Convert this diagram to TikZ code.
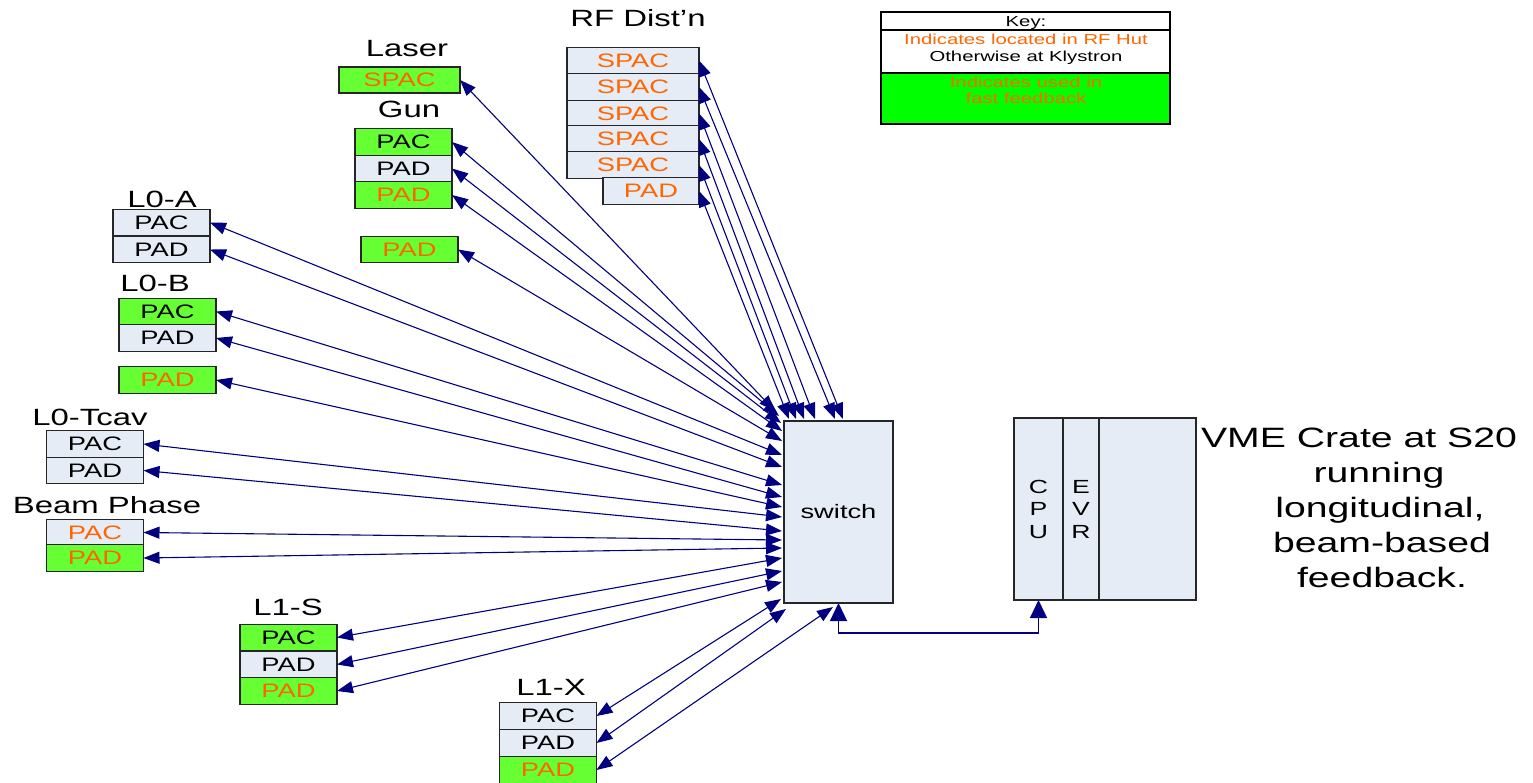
\documentclass[tikz,border=0pt]{standalone}
\usepackage{fontspec}
\setmainfont[FakeStretch=1.4]{Liberation Sans}
\usetikzlibrary{arrows.meta}
\definecolor{boxfill}{HTML}{E6ECF6}
\definecolor{fbgreen}{HTML}{66FF33}
\definecolor{keygreen}{HTML}{00FF00}
\definecolor{huttext}{HTML}{FF6600}
\definecolor{wire}{HTML}{000080}
\newcommand\fsCell{\fontsize{19.5}{19.5}\selectfont}
\newcommand\fsTitle{\fontsize{23.5}{23.5}\selectfont}
\newcommand\fsKey{\fontsize{14.5}{14.5}\selectfont}
\newcommand\fsBig{\fontsize{28}{28}\selectfont}
\begin{document}
\begin{tikzpicture}[x=1pt,y=-1pt,
  cell/.style={draw=black!85, line width=1.1pt, fill=boxfill, minimum width=97pt,
    minimum height=26.5pt, inner sep=0pt, outer sep=0pt, font=\fsCell},
  fast/.style={fill=fbgreen},
  hut/.style={text=huttext},
  title/.style={anchor=base, font=\fsTitle, inner sep=0pt},
  bigtext/.style={anchor=base, font=\fsBig, inner sep=0pt},
  keytext/.style={anchor=base, font=\fsKey, inner sep=0pt},
  link/.style={draw=wire, line width=1.1pt,
    {Triangle[length=16pt,width=12pt]}-{Triangle[length=16pt,width=12pt]}},
  bus/.style={draw=wire, line width=1.3pt,
    {Triangle[length=18pt,width=17pt]}-{Triangle[length=18pt,width=17pt]}},
  unit/.style={draw=black!85, line width=1.1pt, fill=boxfill, inner sep=0pt,
    outer sep=0pt, minimum height=182pt}
]
\path[fill=white, use as bounding box] (0,0) rectangle (1533,783);

% ---- key ----
\draw[line width=2.2pt, fill=white] (881,12) rectangle (1170,124);
\draw[line width=2.2pt, fill=keygreen] (881,73) rectangle (1170,124);
\draw[line width=2.2pt] (881,30) -- (1170,30);
\node[keytext] (keyhead) at (1026,27) {Key:};
\node[keytext, text=huttext] (keyhut) at (1026,45) {Indicates located in RF Hut};
\node[keytext] (keykly) at (1026,62) {Otherwise at Klystron};
\node[keytext, text=huttext] (keyfb1) at (1026,88) {Indicates used in};
\node[keytext, text=huttext] (keyfb2) at (1026,104) {fast feedback};

% ---- laser and gun ----
\node[title] (tlaser) at (407,57) {Laser};
\node[cell, fast, hut, minimum width=121pt, minimum height=26pt] (laser) at (399.5,80) {SPAC};
\node[title] (tgun) at (409,118) {Gun};
\node[cell, fast] (gun1) at (403.5,142) {PAC};
\node[cell] (gun2) at (403.5,168.5) {PAD};
\node[cell, fast, hut] (gun3) at (403.5,195) {PAD};
\node[cell, fast, hut] (gunpad) at (409.5,249.5) {PAD};

% ---- RF distribution ----
\node[title] (trf) at (638,27) {RF Dist'n};
\node[cell, hut, minimum width=132pt] (rf1) at (633,60.5) {SPAC};
\node[cell, hut, minimum width=132pt] (rf2) at (633,87) {SPAC};
\node[cell, hut, minimum width=132pt] (rf3) at (633,113.5) {SPAC};
\node[cell, hut, minimum width=132pt] (rf4) at (633,139) {SPAC};
\node[cell, hut, minimum width=132pt] (rf5) at (633,165) {SPAC};
\node[cell, hut, minimum width=96pt] (rf6) at (651,191) {PAD};

% ---- L0-A / L0-B ----
\node[title] (tl0a) at (162,208) {L0-A};
\node[cell] (l0a1) at (161.5,222.5) {PAC};
\node[cell] (l0a2) at (161.5,249.5) {PAD};
\node[title] (tl0b) at (155,292) {L0-B};
\node[cell, fast] (l0b1) at (167.5,311.5) {PAC};
\node[cell] (l0b2) at (167.5,338) {PAD};
\node[cell, fast, hut] (l0b3) at (167.5,380) {PAD};

% ---- L0-Tcav / Beam Phase ----
\node[title] (ttcav) at (90,425) {L0-Tcav};
\node[cell] (tcav1) at (95,444) {PAC};
\node[cell] (tcav2) at (95,470.5) {PAD};
\node[title] (tbeam) at (107,513) {Beam Phase};
\node[cell, hut] (beam1) at (95,532.5) {PAC};
\node[cell, fast, hut] (beam2) at (95,558) {PAD};

% ---- L1-S / L1-X ----
\node[title] (tl1s) at (288,615) {L1-S};
\node[cell, fast] (l1s1) at (288.5,637.5) {PAC};
\node[cell] (l1s2) at (288.5,664.5) {PAD};
\node[cell, fast, hut] (l1s3) at (288.5,691) {PAD};
\node[title] (tl1x) at (551,695) {L1-X};
\node[cell] (l1x1) at (548,716) {PAC};
\node[cell] (l1x2) at (548,743) {PAD};
\node[cell, fast, hut] (l1x3) at (548,770) {PAD};

% ---- switch and VME crate ----
\node[unit, minimum width=109pt, font=\fontsize{19.5}{19.5}\selectfont] (sw) at (838.5,512) {switch};
\node[unit, minimum width=182pt] (crate) at (1105,509) {};
\node[unit, minimum width=49pt, align=center, font=\fontsize{19}{22.5}\selectfont] (cpu) at (1038.5,509) {C\\P\\U};
\node[unit, minimum width=36pt, align=center, font=\fontsize{19}{22.5}\selectfont] (evr) at (1081,509) {E\\V\\R};
\node[bigtext] (vme1) at (1359,447) {VME Crate at S20};
\node[bigtext] (vme2) at (1379,482) {running};
\node[bigtext] (vme3) at (1380,517) {longitudinal,};
\node[bigtext] (vme4) at (1382,552) {beam-based};
\node[bigtext] (vme5) at (1382,587) {feedback.};

% ---- switch ports ----
\coordinate (pLaser) at (775,411);
\coordinate (pGun1) at (779,416);
\coordinate (pGun2) at (781,423);
\coordinate (pGun3) at (782,431);
\coordinate (pGunPad) at (782,441);
\coordinate (pA1) at (782,455);
\coordinate (pA2) at (782,467);
\coordinate (pB1) at (782,485);
\coordinate (pB2) at (782,497);
\coordinate (pB3) at (782,507);
\coordinate (pT1) at (782,517);
\coordinate (pT2) at (782,531);
\coordinate (pP1) at (782,540);
\coordinate (pP2) at (782,548);
\coordinate (pS1) at (782,558);
\coordinate (pS2) at (782,571);
\coordinate (pS3) at (782,582);
\coordinate (pX1) at (781,599);
\coordinate (pX2) at (786,609);
\coordinate (pX3) at (833,607);
\coordinate (pR1) at (843,419);
\coordinate (pR2) at (835,419);
\coordinate (pR3) at (815,419);
\coordinate (pR4) at (804,419);
\coordinate (pR5) at (796,419);
\coordinate (pR6) at (789,419);

% ---- links to the switch ----
\draw[link] (laser.east) -- (pLaser);
\draw[link] (gun1.east) -- (pGun1);
\draw[link] (gun2.east) -- (pGun2);
\draw[link] (gun3.east) -- (pGun3);
\draw[link] (gunpad.east) -- (pGunPad);
\draw[link] (rf1.east) -- (pR1);
\draw[link] (rf2.east) -- (pR2);
\draw[link] (rf3.east) -- (pR3);
\draw[link] (rf4.east) -- (pR4);
\draw[link] (rf5.east) -- (pR5);
\draw[link] (rf6.east) -- (pR6);
\draw[link] (l0a1.east) -- (pA1);
\draw[link] (l0a2.east) -- (pA2);
\draw[link] (l0b1.east) -- (pB1);
\draw[link] (l0b2.east) -- (pB2);
\draw[link] (l0b3.east) -- (pB3);
\draw[link] (tcav1.east) -- (pT1);
\draw[link] (tcav2.east) -- (pT2);
\draw[link] (beam1.east) -- (pP1);
\draw[link] (beam2.east) -- (pP2);
\draw[link] (l1s1.east) -- (pS1);
\draw[link] (l1s2.east) -- (pS2);
\draw[link] (l1s3.east) -- (pS3);
\draw[link] (l1x1.east) -- (pX1);
\draw[link] (l1x2.east) -- (pX2);
\draw[link] (l1x3.east) -- (pX3);

% ---- switch to CPU ----
\draw[bus] (sw.south) -- ++(0,30) -| (cpu.south);
\end{tikzpicture}
\end{document}
